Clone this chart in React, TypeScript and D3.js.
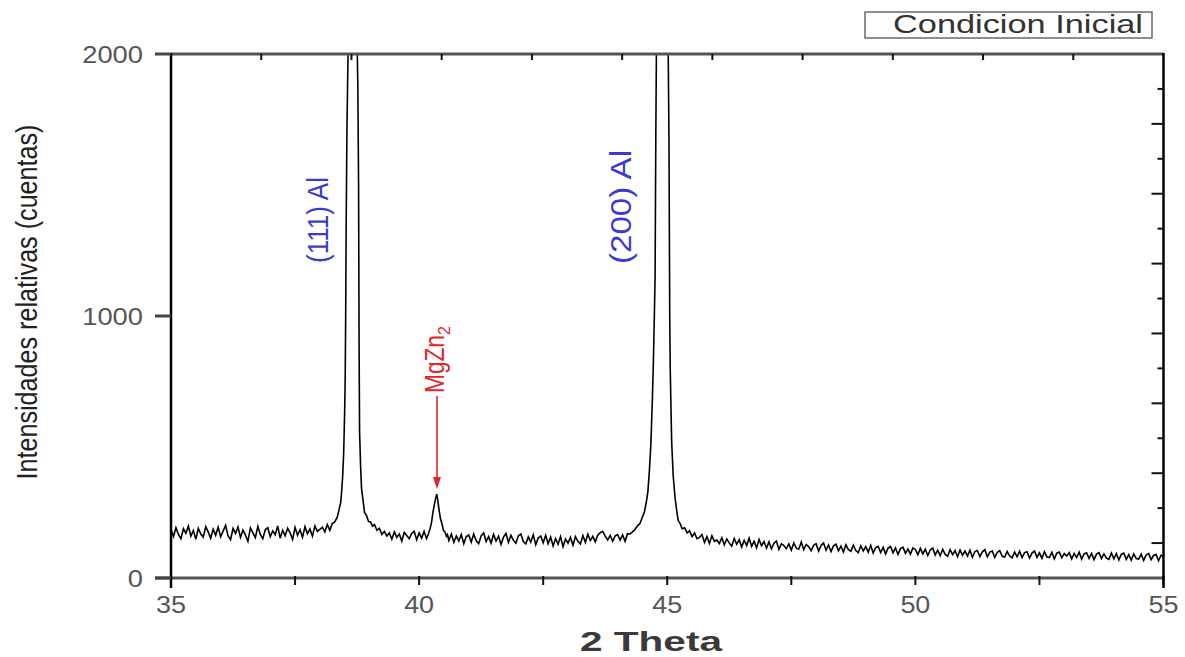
import React from 'react';
import * as d3 from 'd3';

// XRD scan: 2θ from 35.00 to 55.00, step 0.05 (one row per degree)
const gridStart = 35;
const gridStep = 0.05;
const counts: number[] = [
  // 35
  185, 158, 192, 166, 150, 188, 171, 198, 160, 181, 148, 190, 168, 156, 196, 176, 152, 186, 163, 194,
  // 36
  157, 179, 201, 161, 146, 189, 170, 195, 155, 183, 164, 140, 191, 172, 154, 197, 166, 150, 184, 192,
  // 37
  158, 180, 165, 199, 152, 182, 161, 190, 172, 147, 193, 163, 184, 155, 196, 169, 187, 160, 199, 178,
  // 38
  186, 194, 176, 204, 182, 208, 214, 232, 286, 380, 700, 1840, 3500, 6000, 4000, 2000, 600, 330, 250, 225,
  // 39
  218, 200, 206, 182, 190, 166, 178, 160, 172, 148, 176, 155, 168, 141, 174, 162, 150, 170, 178, 146,
  // 40
  172, 152, 178, 150, 178, 220, 285, 317, 265, 205, 172, 158, 143, 168, 136, 160, 141, 166, 131, 158,
  // 41
  164, 137, 168, 142, 131, 161, 172, 139, 158, 133, 167, 141, 160, 128, 156, 170, 136, 163, 144, 133,
  // 42
  161, 168, 139, 130, 157, 137, 165, 127, 153, 160, 134, 163, 131, 156, 122, 151, 129, 158, 119, 149,
  // 43
  133, 155, 125, 158, 140, 130, 162, 136, 167, 143, 159, 138, 164, 173, 178, 160, 145, 163, 140, 161,
  // 44
  166, 145, 164, 140, 169, 168, 176, 180, 195, 210, 234, 260, 320, 470, 800, 1400, 2600, 4000, 4500, 4000,
  // 45
  2400, 900, 480, 310, 235, 205, 190, 183, 170, 178, 162, 176, 150, 155, 166, 136, 158, 132, 161, 140,
  // 46
  145, 131, 154, 127, 149, 133, 122, 151, 129, 146, 118, 144, 124, 152, 121, 140, 115, 147, 123, 139,
  // 47
  114, 138, 111, 133, 141, 109, 131, 124, 112, 130, 106, 134, 114, 110, 137, 108, 128, 120, 104, 125,
  // 48
  131, 103, 124, 134, 106, 126, 101, 123, 129, 104, 122, 99, 127, 108, 102, 125, 105, 97, 123, 103,
  // 49
  120, 99, 124, 95, 116, 121, 97, 117, 92, 114, 120, 96, 115, 90, 112, 118, 94, 111, 91, 115,
  // 50
  109, 89, 113, 92, 110, 86, 107, 114, 88, 106, 85, 110, 90, 83, 108, 89, 105, 81, 107, 87,
  // 51
  103, 84, 106, 79, 101, 105, 82, 100, 108, 81, 99, 103, 78, 98, 104, 83, 80, 101, 84, 77,
  // 52
  99, 81, 102, 78, 97, 100, 76, 95, 103, 79, 96, 75, 100, 81, 78, 98, 73, 95, 99, 77,
  // 53
  93, 84, 97, 73, 94, 78, 99, 72, 92, 96, 75, 94, 70, 91, 97, 74, 92, 76, 71, 95,
  // 54
  73, 93, 69, 90, 95, 71, 89, 68, 92, 74, 72, 91, 67, 88, 94, 70, 86, 90, 66, 87,
  // 55
  79,
];

// finer readings around the peaks: [2θ, counts]
const peak111: [number, number][] = [
  [38.38, 255], [38.40, 272], [38.42, 288], [38.44, 334], [38.46, 390], [38.48, 480],
  [38.50, 640], [38.51, 760], [38.52, 1000], [38.53, 1350], [38.545, 1700], [38.56, 1900],
  [38.575, 2100], [38.60, 3800], [38.63, 5800], [38.66, 6500], [38.69, 5800], [38.72, 3800],
  [38.745, 2100], [38.765, 1880], [38.78, 1500], [38.79, 900], [38.80, 560], [38.82, 430],
  [38.84, 340], [38.87, 296], [38.90, 250], [38.94, 238], [38.98, 216], [39.02, 214],
  [39.06, 198], [39.10, 204],
];
const peakMgZn2: [number, number][] = [
  [40.19, 170], [40.22, 188], [40.25, 212], [40.28, 252], [40.31, 283], [40.335, 306],
  [40.355, 320], [40.375, 298], [40.40, 262], [40.43, 226], [40.46, 207], [40.49, 182],
  [40.52, 176], [40.55, 160], [40.57, 166],
];
const peak200: [number, number][] = [
  [44.35, 185], [44.40, 199], [44.45, 208], [44.50, 233], [44.54, 252], [44.58, 292],
  [44.61, 330], [44.64, 410], [44.67, 510], [44.70, 680], [44.72, 820], [44.74, 1000],
  [44.755, 1150], [44.77, 1700], [44.785, 2100], [44.82, 3600], [44.86, 4600], [44.90, 4900],
  [44.94, 4600], [44.98, 3600], [45.015, 2100], [45.035, 1670], [45.05, 1000], [45.06, 800],
  [45.08, 600], [45.09, 515], [45.12, 390], [45.155, 310], [45.19, 258], [45.22, 220],
  [45.26, 208], [45.30, 188], [45.35, 192], [45.40, 172], [45.45, 180], [45.50, 158],
  [45.55, 172], [45.60, 150],
];
const peakWindows: [number, number][] = [[38.37, 39.11], [40.18, 40.58], [44.33, 45.61]];

const xMajorTicks = [35, 40, 45, 50, 55];
const xAllTicks = [35, 37.5, 40, 42.5, 45, 47.5, 50, 52.5, 55];
const yTicks = [0, 1000, 2000];
const topDivisions = 11;
const rightDivisions = 15;

const legendLabel = 'Condicion Inicial';
const xTitle = '2 Theta';
const yTitle = 'Intensidades relativas (cuentas)';

const sans = "'Liberation Sans', Arial, Helvetica, sans-serif";
const narrow = "'Liberation Sans Narrow', 'Liberation Sans', Arial, sans-serif";

export default function App() {
  const W = 1185, H = 657;
  const L = 171, R = 1163.5, T = 54, B = 578;
  const x = d3.scaleLinear().domain([35, 55]).range([L, R]);
  const y = d3.scaleLinear().domain([0, 2000]).range([B, T]);
  const xTop = d3.scaleLinear().domain([0, topDivisions]).range([L, R]);
  const yRight = d3.scaleLinear().domain([0, rightDivisions]).range([B, T]);

  const gridPts: [number, number][] = counts
    .map((c, i) => [gridStart + i * gridStep, c] as [number, number])
    .filter(([t]) => !peakWindows.some(([a, b]) => t > a && t < b));
  const pts = [...gridPts, ...peak111, ...peakMgZn2, ...peak200].sort((a, b) => a[0] - b[0]);
  const line = d3.line<[number, number]>().x(d => x(d[0])).y(d => y(d[1]));

  const blue = '#3b3bd0';
  const red = '#e3262a';
  const mgX = x(40.36);

  return (
    <svg width={W} height={H} style={{ position: 'absolute', left: 0, top: 0, background: '#fff' }}>
      <defs>
        <clipPath id="plot">
          <rect x={L} y={T} width={R - L} height={B - T} />
        </clipPath>
      </defs>
      <rect x={0} y={0} width={W} height={H} fill="#fff" />

      {/* data */}
      <path d={line(pts) || ''} fill="none" stroke="#000" strokeWidth={1.6} strokeLinejoin="miter" clipPath="url(#plot)" />

      {/* top axis */}
      <line x1={L} x2={R} y1={T} y2={T} stroke="#555" strokeWidth={3} />
      {d3.range(1, topDivisions).map(k => (
        <line key={'tt' + k} x1={xTop(k)} x2={xTop(k)} y1={T} y2={T + 6} stroke="#111" strokeWidth={2} />
      ))}
      {/* bottom axis */}
      <line x1={155} x2={R} y1={B} y2={B} stroke="#555" strokeWidth={3} />
      {xAllTicks.map(v => (
        <line key={'bt' + v} x1={x(v)} x2={x(v)} y1={B - 2} y2={B + 7} stroke="#111" strokeWidth={2} />
      ))}
      {/* left axis */}
      <line x1={L} x2={L} y1={T - 1} y2={B + 10} stroke="#000" strokeWidth={2.5} />
      {yTicks.map(v => (
        <line key={'lt' + v} x1={155} x2={L} y1={y(v)} y2={y(v)} stroke="#444" strokeWidth={3} />
      ))}
      {/* right axis */}
      <line x1={R} x2={R} y1={T - 1} y2={B + 10} stroke="#000" strokeWidth={2.5} />
      {d3.range(1, rightDivisions).map(k => (
        <line key={'rt' + k} x1={R - (k % 2 === 1 ? 12 : 6)} x2={R} y1={yRight(k)} y2={yRight(k)} stroke="#111" strokeWidth={2} />
      ))}

      {/* tick labels */}
      {yTicks.map(v => (
        <text key={'yl' + v} x={143} y={y(v)} dy="0.36em" textAnchor="end" fontFamily={sans} fontSize={24} fill="#555"
          textLength={String(v).length * 15.2} lengthAdjust="spacingAndGlyphs">{v}</text>
      ))}
      {xMajorTicks.map(v => (
        <text key={'xl' + v} x={x(v)} y={613} textAnchor="middle" fontFamily={sans} fontSize={24} fill="#555"
          textLength={30} lengthAdjust="spacingAndGlyphs">{v}</text>
      ))}

      {/* axis titles */}
      <text x={651} y={651} textAnchor="middle" fontFamily={sans} fontSize={28} fontWeight="bold" fill="#3a3a3a"
        textLength={142} lengthAdjust="spacingAndGlyphs">{xTitle}</text>
      <text transform="translate(37,302) rotate(-90)" textAnchor="middle" fontFamily={narrow} fontSize={29} fill="#222"
        textLength={355} lengthAdjust="spacingAndGlyphs">{yTitle}</text>

      {/* legend */}
      <rect x={865} y={12} width={287} height={26} fill="#fff" stroke="#444" strokeWidth={1.2} />
      <text x={893} y={33} fontFamily={sans} fontSize={26} fill="#333" textLength={250} lengthAdjust="spacingAndGlyphs">{legendLabel}</text>

      {/* annotations */}
      <text transform={`translate(${x(38.12) + 2},${220}) rotate(-90)`} textAnchor="middle" fontFamily={narrow} fontSize={29}
        fill={blue} textLength={86} lengthAdjust="spacingAndGlyphs">(111) Al</text>
      <text transform={`translate(${x(44.22) + 2},${207}) rotate(-90)`} textAnchor="middle" fontFamily={narrow} fontSize={29}
        fill={blue} textLength={114} lengthAdjust="spacingAndGlyphs">(200) Al</text>
      <text transform={`translate(${mgX + 7},${393}) rotate(-90)`} textAnchor="start" fontFamily={narrow} fontSize={27} fill={red}>
        <tspan textLength={58} lengthAdjust="spacingAndGlyphs">MgZn</tspan><tspan fontSize={16} dy={6}>2</tspan>
      </text>
      <line x1={mgX} x2={mgX} y1={396} y2={479} stroke={red} strokeWidth={1.6} />
      <path d={`M${mgX - 4},${477} L${mgX + 4},${477} L${mgX},${489} Z`} fill={red} />
    </svg>
  );
}
